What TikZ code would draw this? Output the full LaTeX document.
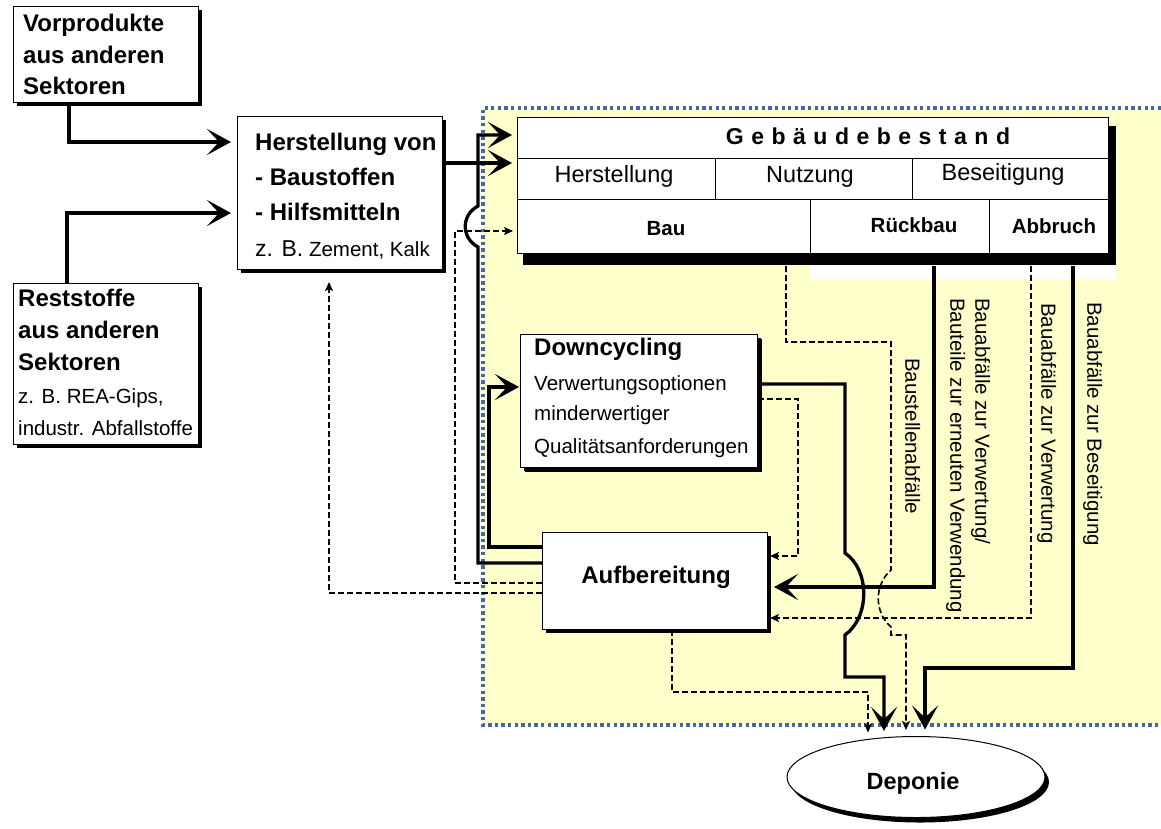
\documentclass[tikz,border=0pt]{standalone}
\usepackage{fontspec}
\setmainfont{Liberation Sans}
\usetikzlibrary{arrows.meta,shadows,shapes.geometric,calc}
\definecolor{bgyellow}{HTML}{FFFFCC}
\definecolor{dotblue}{RGB}{70,100,175}
\begin{document}
\begin{tikzpicture}[x=1pt,y=-1pt,
  box/.style={draw=black,line width=1pt,fill=white,inner sep=0pt,anchor=north west,
    drop shadow={shadow xshift=3pt,shadow yshift=-3pt,opacity=1,fill=black}},
  cell/.style={draw=black,line width=1pt,fill=white,inner sep=0pt,anchor=north west},
  txt/.style={inner sep=0pt,anchor=base west},
  ctxt/.style={inner sep=0pt,anchor=base},
  vtxt/.style={inner sep=0pt,anchor=mid west,rotate=-90,font=\fontsize{20.5}{25}\selectfont},
  bigB/.style={font=\fontsize{24}{29}\selectfont\bfseries},
  small/.style={font=\fontsize{20.5}{25}\selectfont},
  midB/.style={font=\fontsize{20.5}{25}\selectfont\bfseries},
  flow/.style={line width=3.3pt,-{Stealth[length=24pt,width=26pt,inset=12pt]}},
  dflow/.style={line width=1.6pt,dash pattern=on 6pt off 3pt,-{Stealth[length=9pt,width=8pt,inset=2pt]}},
]
\useasboundingbox (0,0) rectangle (1161,828);
% system area
\fill[bgyellow] (483,108) rectangle (1161,725);
\draw[dotblue,line width=3.3pt,dash pattern=on 3.3pt off 3.3pt] (1161,108) -- (483,108) -- (483,725) -- (1161,725);
\fill[white] (810,265) rectangle (1116,279);

% left boxes
\node[box,minimum width=185pt,minimum height=96pt] (vor) at (13,6) {};
\node[txt,bigB] (vor1) at (23,31) {Vorprodukte};
\node[txt,bigB] (vor2) at (23,63) {aus anderen};
\node[txt,bigB] (vor3) at (23,94) {Sektoren};

\node[box,minimum width=185pt,minimum height=161pt] (rest) at (13,283) {};
\node[txt,bigB] (rest1) at (18,306) {Reststoffe};
\node[txt,bigB] (rest2) at (18,338) {aus anderen};
\node[txt,bigB] (rest3) at (18,370) {Sektoren};
\node[txt,small] (rest4) at (18,403) {z. B. REA-Gips,};
\node[txt,small] (rest5) at (18,435) {industr. Abfallstoffe};

\node[box,minimum width=205pt,minimum height=153pt] (her) at (237,116) {};
\node[txt,bigB] (her1) at (255,150) {Herstellung von};
\node[txt,bigB] (her2) at (255,185) {- Baustoffen};
\node[txt,bigB] (her3) at (255,220) {- Hilfsmitteln};
\node[txt,small] (her4) at (255,256) {{\fontsize{23}{28}\selectfont z. B.} Zement, Kalk};

% Gebaeudebestand table
\fill[black] (523,126) rectangle (1116,265);
\node[cell,minimum width=591pt,minimum height=41pt] (gtitle) at (517,117) {};
\node[cell,minimum width=198pt,minimum height=41pt] (hcell) at (517,158) {};
\node[cell,minimum width=197pt,minimum height=41pt] (ncell) at (715,158) {};
\node[cell,minimum width=196pt,minimum height=41pt] (bcell) at (912,158) {};
\node[cell,minimum width=293pt,minimum height=54pt] (bau) at (517,199) {};
\node[cell,minimum width=179pt,minimum height=54pt] (rueck) at (810,199) {};
\node[cell,minimum width=119pt,minimum height=54pt] (abbr) at (989,199) {};
\node[ctxt,font=\fontsize{23}{28}\selectfont\bfseries] (gtxt) at (868,144)
  {G\hspace{7.5pt}e\hspace{7.5pt}b\hspace{7.5pt}ä\hspace{7.5pt}u\hspace{7.5pt}d\hspace{7.5pt}e\hspace{7.5pt}b\hspace{7.5pt}e\hspace{7.5pt}s\hspace{7.5pt}t\hspace{7.5pt}a\hspace{7.5pt}n\hspace{7.5pt}d};
\node[ctxt,font=\fontsize{23.5}{28}\selectfont] (htxt) at (614,182) {Herstellung};
\node[ctxt,font=\fontsize{23.5}{28}\selectfont] (ntxt) at (810,182) {Nutzung};
\node[ctxt,font=\fontsize{23.5}{28}\selectfont] (btxt) at (1003,180) {Beseitigung};
\node[ctxt,midB] (bautxt) at (666,235) {Bau};
\node[ctxt,midB] (ruecktxt) at (914,232) {Rückbau};
\node[ctxt,midB] (abbrtxt) at (1054,233) {Abbruch};

% Downcycling
\node[box,minimum width=237pt,minimum height=133pt,
  drop shadow={shadow xshift=4pt,shadow yshift=-4pt,opacity=1,fill=black}] (down) at (520,334) {};
\node[txt,bigB] (down1) at (534,355) {Downcycling};
\node[txt,small] (down2) at (534,390) {Verwertungsoptionen};
\node[txt,small] (down3) at (534,420) {minderwertiger};
\node[txt,small] (down4) at (534,453) {Qualitätsanforderungen};

% Aufbereitung
\node[box,minimum width=225pt,minimum height=97pt] (aufb) at (542,532) {};
\node[ctxt,bigB] (aufbtxt) at (656,583) {Aufbereitung};

% Deponie
\node[ellipse,draw=black,line width=1pt,fill=white,inner sep=0pt,minimum width=258pt,minimum height=81pt,
  drop shadow={shadow xshift=4pt,shadow yshift=-5pt,opacity=1,fill=black}] (dep) at (916,777) {};
\node[ctxt,font=\fontsize{23.5}{28}\selectfont\bfseries] (deptxt) at (913,789) {Deponie};

% vertical labels
\node[vtxt] (l1) at (908,358) {Baustellenabfälle};
\node[vtxt] (l2a) at (978,298) {Bauabfälle zur Verwertung/};
\node[vtxt] (l2b) at (953,298) {Bauteile zur erneuten Verwendung};
\node[vtxt] (l3) at (1044,303) {Bauabfälle zur Verwertung};
\node[vtxt] (l4) at (1090,302) {Bauabfälle zur Beseitigung};

% connectors
\draw[flow,shorten >=6pt] (69,0 |- vor.south) |- (her.west |- 0,142);
\draw[flow,shorten >=6pt] (67,0 |- rest.north) |- (her.west |- 0,213);
\draw[flow,shorten >=5pt] (her.east |- 0,163) -- (hcell.west |- 0,163);
\draw[flow,shorten >=5pt] (aufb.west |- 0,563) -- (478,563) -- (478,247)
  .. controls (461,238) and (461,215) .. (478,206) -- (478,135) -- (gtitle.west |- 0,135);
\draw[flow,shorten >=1pt] (aufb.west |- 0,547) -| (489,387) -- (down.west |- 0,387);
\draw[dflow,shorten >=4pt] (aufb.west |- 0,583) -| (455,231) -- (bau.west |- 0,231);
\draw[dflow,shorten >=12pt] (aufb.west |- 0,593) -| (329,0 |- her.south);
\draw[dflow,shorten >=2pt] (down.east |- 0,399) -| (798,556) -- (aufb.east |- 0,556);
\draw[flow,shorten >=5pt] (down.east |- 0,384) -- (845,384) -- (845,553)
  .. controls (870,570) and (870,617) .. (845,635) -- (845,677) -- (884,677) -- (884,0 |- dep.north);
\draw[dflow,shorten >=6pt] ($(bau.south -| 786,0)+(0,12)$) -- (786,342) -- (891,342) -- (891,570)
  .. controls (874,585) and (874,612) .. (891,627) -- (891,635) -- (906,635) -- (906,0 |- dep.north);
\draw[flow,shorten >=6pt] ($(rueck.south -| 934,0)+(0,12)$) -- (934,587) -- (aufb.east |- 0,587);
\draw[dflow,shorten >=2pt] ($(abbr.south -| 1031,0)+(0,12)$) -- (1031,618) -- (aufb.east |- 0,618);
\draw[flow,shorten >=6.5pt] ($(abbr.south -| 1073,0)+(0,12)$) -- (1073,668) -- (925,668) -- (925,0 |- dep.north);
\draw[dflow,shorten >=3.5pt] (672,0 |- aufb.south) -- (672,692) -- (868,692) -- (868,0 |- dep.north);
\end{tikzpicture}
\end{document}
